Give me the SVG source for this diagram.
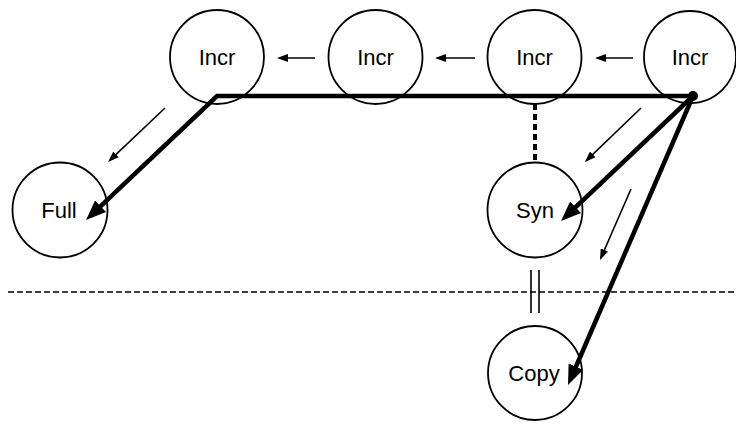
<svg xmlns="http://www.w3.org/2000/svg" width="736" height="424" viewBox="0 0 736 424">
<style>
.node circle{fill:#fff;stroke:#000;stroke-width:1.8}
.node text{font-family:"Liberation Sans",Arial,sans-serif;font-size:22px;text-anchor:middle;fill:#000}
.thick{fill:none;stroke:#000;stroke-width:4.5;stroke-linejoin:miter}
.thin{fill:none;stroke:#000;stroke-width:1.6}
</style>
<defs>
<marker id="big" viewBox="0 0 20 16" refX="14" refY="8" markerWidth="20" markerHeight="16" markerUnits="userSpaceOnUse" orient="auto">
<path d="M0,0 L20,8 L0,16 z" fill="#000"/>
</marker>
<marker id="small" viewBox="0 0 11 8" refX="9" refY="4" markerWidth="11" markerHeight="8" markerUnits="userSpaceOnUse" orient="auto">
<path d="M0,0 L11,4 L0,8 z" fill="#000"/>
</marker>
</defs>
<line x1="8" y1="292" x2="736" y2="292" stroke="#000" stroke-width="1.6" stroke-dasharray="6,3"/>
<g id="incr1" class="node"><circle cx="217" cy="57" r="47"/><text x="217" y="65">Incr</text></g>
<g id="incr2" class="node"><circle cx="375.5" cy="57" r="47"/><text x="375.5" y="65">Incr</text></g>
<g id="incr3" class="node"><circle cx="534.5" cy="57" r="47"/><text x="534.5" y="65">Incr</text></g>
<g id="incr4" class="node"><circle cx="690" cy="57" r="46"/><text x="690" y="65">Incr</text></g>
<g id="full" class="node"><circle cx="60" cy="210" r="47.5"/><text x="59" y="218">Full</text></g>
<g id="syn" class="node"><circle cx="535" cy="210" r="47.5"/><text x="535" y="218">Syn</text></g>
<g id="copy" class="node"><circle cx="535" cy="373" r="47"/><text x="534" y="381">Copy</text></g>
<g id="connectors">
<line class="thin" x1="315" y1="58" x2="279" y2="58" marker-end="url(#small)"/>
<line class="thin" x1="475" y1="58" x2="437" y2="58" marker-end="url(#small)"/>
<line class="thin" x1="633" y1="58" x2="597" y2="58" marker-end="url(#small)"/>
<line class="thin" x1="165" y1="108" x2="109.5" y2="160.6" marker-end="url(#small)"/>
<line class="thin" x1="641" y1="108" x2="586.3" y2="160.6" marker-end="url(#small)"/>
<line class="thin" x1="631" y1="189" x2="600.8" y2="258.2" marker-end="url(#small)"/>
<line x1="535" y1="104" x2="535" y2="162" stroke="#000" stroke-width="4" stroke-dasharray="6,4"/>
<line x1="531" y1="270" x2="531" y2="313" stroke="#000" stroke-width="1.6"/>
<line x1="539" y1="270" x2="539" y2="313" stroke="#000" stroke-width="1.6"/>
<path class="thick" d="M693,96 L217,96 L90.4,215.9" marker-end="url(#big)"/>
<line class="thick" x1="693" y1="96" x2="565.4" y2="216.9" marker-end="url(#big)"/>
<line class="thick" x1="693" y1="96" x2="570.4" y2="379.5" marker-end="url(#big)"/>
<circle cx="693" cy="96" r="5" fill="#000"/>
</g>
</svg>
